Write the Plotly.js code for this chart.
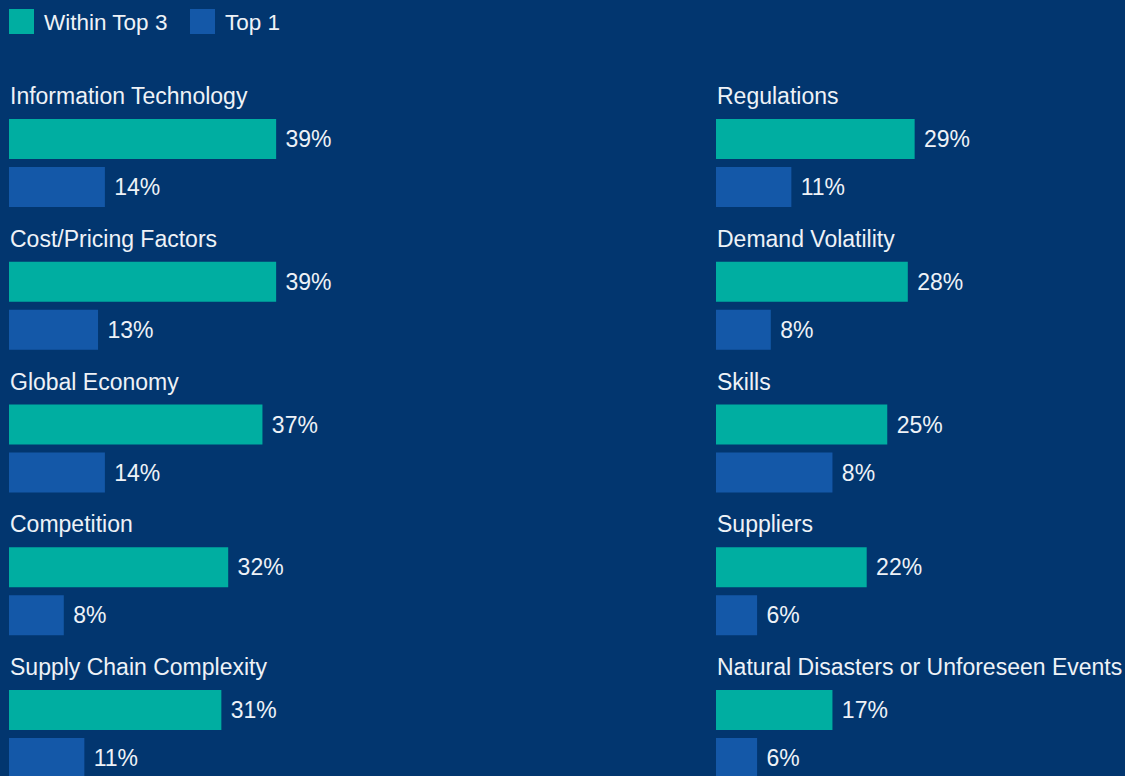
<!DOCTYPE html>
<html>
<head>
<meta charset="utf-8">
<script src="https://cdn.plot.ly/plotly-3.0.1.min.js"></script>
<style>
  html, body { margin: 0; padding: 0; background: #02366F; }
  #chart { width: 1125px; height: 776px; }
</style>
</head>
<body>
<div id="chart"></div>
<script>
// ---- data ----
const leftCategories = ["Information Technology", "Cost/Pricing Factors", "Global Economy", "Competition", "Supply Chain Complexity"];
const leftTop3 = [39, 39, 37, 32, 31];
const leftTop1 = [14, 13, 14, 8, 11];
const leftTop3Labels = ["39%", "39%", "37%", "32%", "31%"];
const leftTop1Labels = ["14%", "13%", "14%", "8%", "11%"];

const rightCategories = ["Regulations", "Demand Volatility", "Skills", "Suppliers", "Natural Disasters or Unforeseen Events"];
const rightTop3 = [29, 28, 25, 22, 17];
const rightTop1 = [11, 8, 17, 6, 6];   // bar lengths as drawn in the picture
const rightTop3Labels = ["29%", "28%", "25%", "22%", "17%"];
const rightTop1Labels = ["11%", "8%", "8%", "6%", "6%"];

const seriesNames = ["Within Top 3", "Top 1"];

// ---- style ----
const BG = "#02366F";
const GREEN = "#00AEA1";
const BLUE = "#1458A8";
const TXT = "#EEF2F7";
const FONT = "'Liberation Sans', Arial, sans-serif";
const W = 1125, H = 776;
const NBSP = "\u00A0";

function barTrace(name, cats, vals, labels, color, xa, ya) {
  return {
    type: "bar", orientation: "h", name: name,
    y: cats, x: vals,
    text: labels.map(l => NBSP + l),
    textposition: "outside", cliponaxis: false, constraintext: "none",
    textfont: {family: FONT, size: 23, color: TXT},
    marker: {color: color, line: {width: 0}},
    xaxis: xa, yaxis: ya, showlegend: false, hoverinfo: "skip"
  };
}

const traces = [
  barTrace(seriesNames[0], leftCategories, leftTop3, leftTop3Labels, GREEN, "x", "y"),
  barTrace(seriesNames[1], leftCategories, leftTop1, leftTop1Labels, BLUE, "x", "y"),
  barTrace(seriesNames[0], rightCategories, rightTop3, rightTop3Labels, GREEN, "x2", "y2"),
  barTrace(seriesNames[1], rightCategories, rightTop1, rightTop1Labels, BLUE, "x2", "y2")
];

const pxPerPct = 6.85, xMax = 50;
const leftStart = 9, rightStart = 716;
const pitch = 142.75, firstCenter = 163;
const yTop = -firstCenter / pitch;
const yBottom = yTop + H / pitch;

function xAxis(start) {
  return {domain: [start / W, (start + pxPerPct * xMax) / W], range: [0, xMax],
          visible: false, fixedrange: true};
}
function yAxis(cats, anchor) {
  return {type: "category", categoryorder: "array", categoryarray: cats,
          range: [yBottom, yTop], visible: false, anchor: anchor, fixedrange: true};
}

const annotations = [];
function catLabels(cats, xa, ya) {
  cats.forEach(c => annotations.push({
    text: c, xref: xa + " domain", x: 0, xanchor: "left", xshift: -1.5,
    yref: ya, y: c, yanchor: "middle", yshift: 67,
    showarrow: false, font: {family: FONT, size: 23, color: TXT}
  }));
}
catLabels(leftCategories, "x", "y");
catLabels(rightCategories, "x2", "y2");

// legend (drawn manually for large square swatches)
const legendItems = [
  {name: seriesNames[0], color: GREEN, sx: 9, tx: 42},
  {name: seriesNames[1], color: BLUE, sx: 190, tx: 223}
];
const shapes = [];
legendItems.forEach(it => {
  shapes.push({type: "rect", xref: "paper", yref: "paper",
    x0: it.sx / W, x1: (it.sx + 25) / W, y0: 1 - 34 / H, y1: 1 - 9 / H,
    fillcolor: it.color, line: {width: 0}});
  annotations.push({text: it.name, xref: "paper", yref: "paper",
    x: it.tx / W, xanchor: "left", y: 1 - 22 / H, yanchor: "middle",
    showarrow: false, font: {family: FONT, size: 22.5, color: TXT}});
});

const layout = {
  width: W, height: H,
  margin: {l: 0, r: 0, t: 0, b: 0, pad: 0},
  paper_bgcolor: BG, plot_bgcolor: BG,
  barmode: "group", bargap: 1 - 96 / pitch, bargroupgap: 1 / 6,
  xaxis: xAxis(leftStart), yaxis: yAxis(leftCategories, "x"),
  xaxis2: xAxis(rightStart), yaxis2: yAxis(rightCategories, "x2"),
  showlegend: false,
  annotations: annotations, shapes: shapes,
  font: {family: FONT, color: TXT}
};

Plotly.newPlot("chart", traces, layout, {displayModeBar: false, staticPlot: true});
</script>
</body>
</html>
